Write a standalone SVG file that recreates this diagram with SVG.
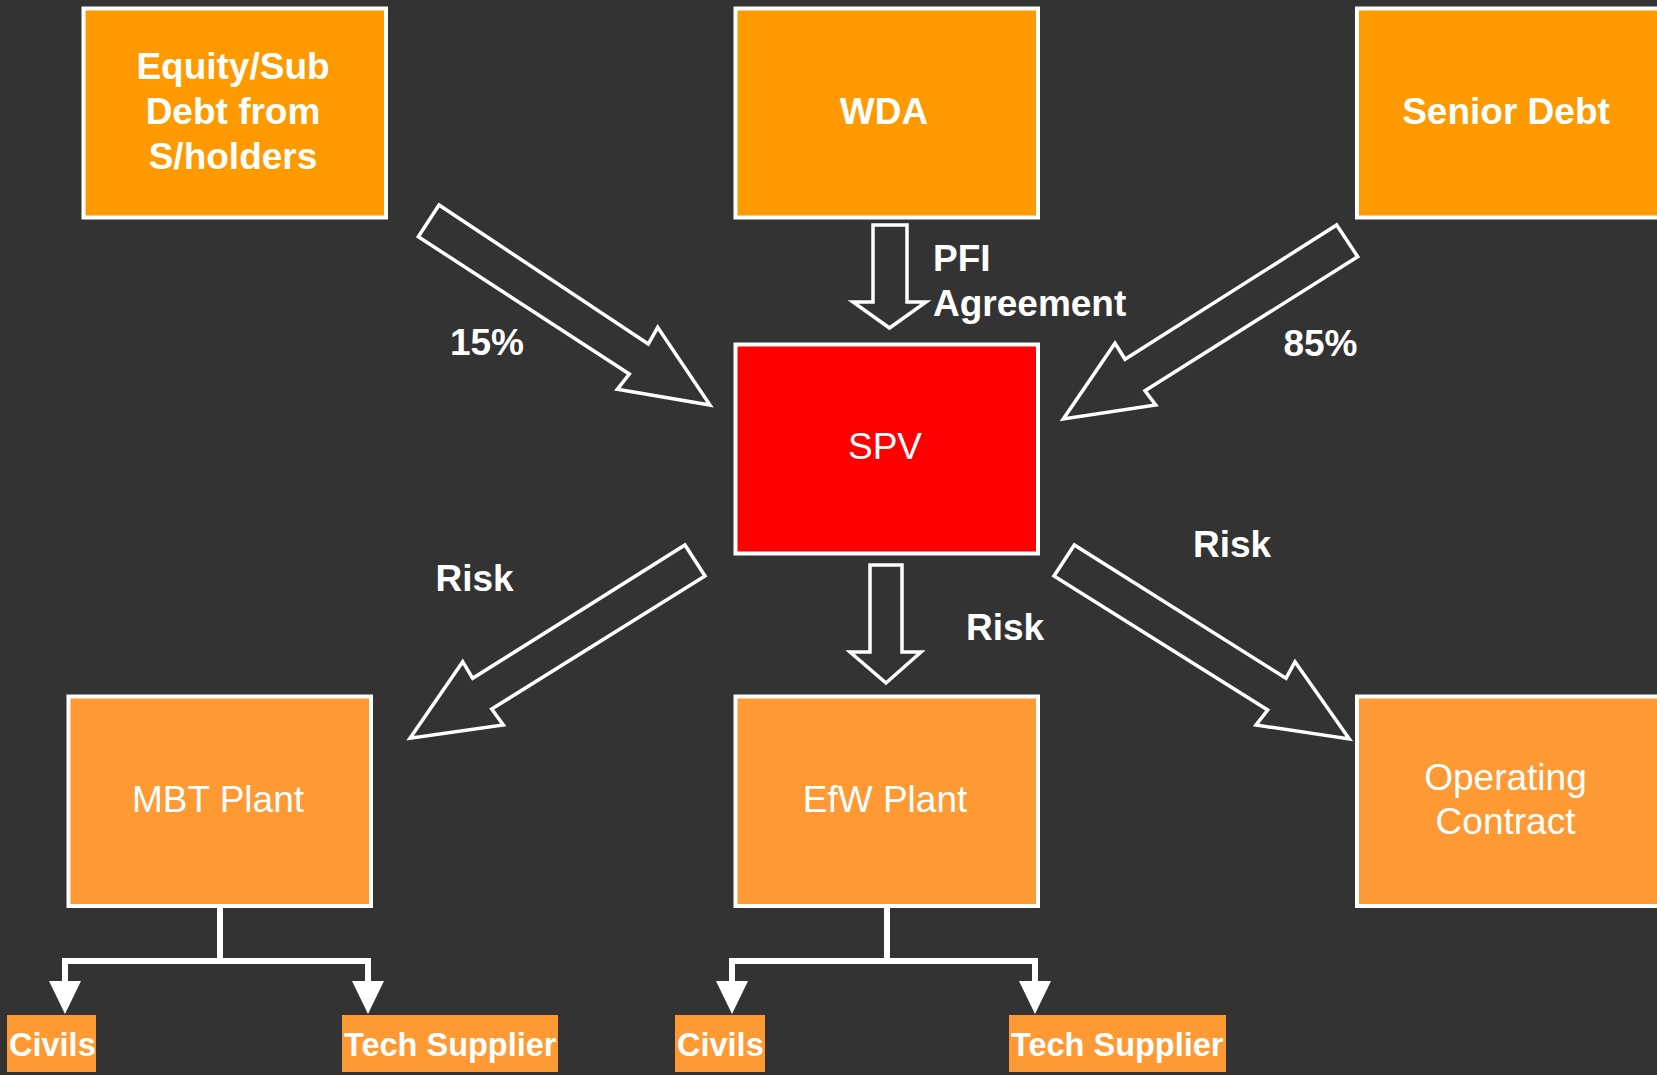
<svg xmlns="http://www.w3.org/2000/svg" width="1657" height="1075" viewBox="0 0 1657 1075">
<style>
.top{fill:#FF9900;stroke:#FFFFFF;stroke-width:4}
.bot{fill:#FF9933;stroke:#FFFFFF;stroke-width:4}
.spv{fill:#FF0000;stroke:#FFFFFF;stroke-width:4}
.small{fill:#FF9933}
.blk{fill:none;stroke:#FFFFFF;stroke-width:3.5;stroke-linejoin:miter}
.line{fill:none;stroke:#FFFFFF;stroke-width:6;stroke-linejoin:miter}
.head{fill:#FFFFFF}
.tb{font-family:"Liberation Sans",Arial,sans-serif;font-weight:bold;font-size:37px;fill:#FFFFFF}
.tr{font-family:"Liberation Sans",Arial,sans-serif;font-size:37px;fill:#FFFFFF}
.ts{font-family:"Liberation Sans",Arial,sans-serif;font-weight:bold;font-size:32.5px;fill:#FFFFFF}
.m{text-anchor:middle}
</style>
<rect x="0" y="0" width="1657" height="1075" fill="#333333"/>

<g id="equity">
<rect class="top" x="83.5" y="8.5" width="302.5" height="209"/>
<text class="tb m" x="233" y="79">Equity/Sub</text>
<text class="tb m" x="233" y="124">Debt from</text>
<text class="tb m" x="233" y="169">S/holders</text>
</g>
<g id="wda">
<rect class="top" x="735.5" y="8.5" width="302.5" height="209"/>
<text class="tb m" x="884" y="123.5">WDA</text>
</g>
<g id="senior-debt">
<rect class="top" x="1357" y="8.5" width="302.5" height="209"/>
<text class="tb m" x="1506" y="123.5">Senior Debt</text>
</g>
<g id="spv">
<rect class="spv" x="735.5" y="344.5" width="302.5" height="209"/>
<text class="tr m" x="885" y="459">SPV</text>
</g>
<g id="mbt">
<rect class="bot" x="68.5" y="696.5" width="302.5" height="209.5"/>
<text class="tr m" x="218" y="812">MBT Plant</text>
</g>
<g id="efw">
<rect class="bot" x="735.5" y="696.5" width="302.5" height="209.5"/>
<text class="tr m" x="885" y="812">EfW Plant</text>
</g>
<g id="operating">
<rect class="bot" x="1357" y="696.5" width="302.5" height="209.5"/>
<text class="tr m" x="1505.5" y="790">Operating</text>
<text class="tr m" x="1505.5" y="834">Contract</text>
</g>
<g id="civils-1">
<rect class="small" x="7" y="1015" width="89" height="57"/>
<text class="ts" x="9" y="1056">Civils</text>
</g>
<g id="tech-1">
<rect class="small" x="342" y="1015" width="216" height="57"/>
<text class="ts" x="344" y="1056">Tech Supplier</text>
</g>
<g id="civils-2">
<rect class="small" x="675" y="1015" width="90" height="57"/>
<text class="ts" x="677" y="1056">Civils</text>
</g>
<g id="tech-2">
<rect class="small" x="1009" y="1015" width="217" height="57"/>
<text class="ts" x="1011" y="1056">Tech Supplier</text>
</g>

<g id="connectors">
<polygon class="blk" points="439,205 418.3,236.7 629.3,374 617.3,389.3 710,405 657.7,327.3 648.3,344"/>
<polygon class="blk" points="1336.7,225 1357.7,256.7 1145,390.7 1155.7,405 1063.3,419 1115,343.3 1125,359.3"/>
<polygon class="blk" points="685,545 705,576 491.7,709 503.3,725 410,738.3 462.7,661.7 472.7,678.3"/>
<polygon class="blk" points="1074.3,545 1054,576 1267.7,710 1256,725 1349.3,739 1295,661.7 1286,678.3"/>
<polygon class="blk" points="873,225 907,225 907,302 926,302 889.5,328 853,302 873,302"/>
<polygon class="blk" points="870,565 902,565 902,652 921,652 886,683 850,652 870,652"/>

<path class="line" d="M220,907 V961 M65,983 V961 H368 V983"/>
<polygon class="head" points="49,981 81,981 65,1014"/>
<polygon class="head" points="352,981 384,981 368,1014"/>
<path class="line" d="M887,907 V961 M732,983 V961 H1035 V983"/>
<polygon class="head" points="716,981 748,981 732,1014"/>
<polygon class="head" points="1019,981 1051,981 1035,1014"/>

<text class="tb m" x="487" y="355">15%</text>
<text class="tb m" x="1320.5" y="356">85%</text>
<text class="tb" x="933" y="271">PFI</text>
<text class="tb" x="933" y="316">Agreement</text>
<text class="tb m" x="474.5" y="591">Risk</text>
<text class="tb m" x="1005" y="640">Risk</text>
<text class="tb m" x="1232" y="557">Risk</text>
</g>
</svg>
